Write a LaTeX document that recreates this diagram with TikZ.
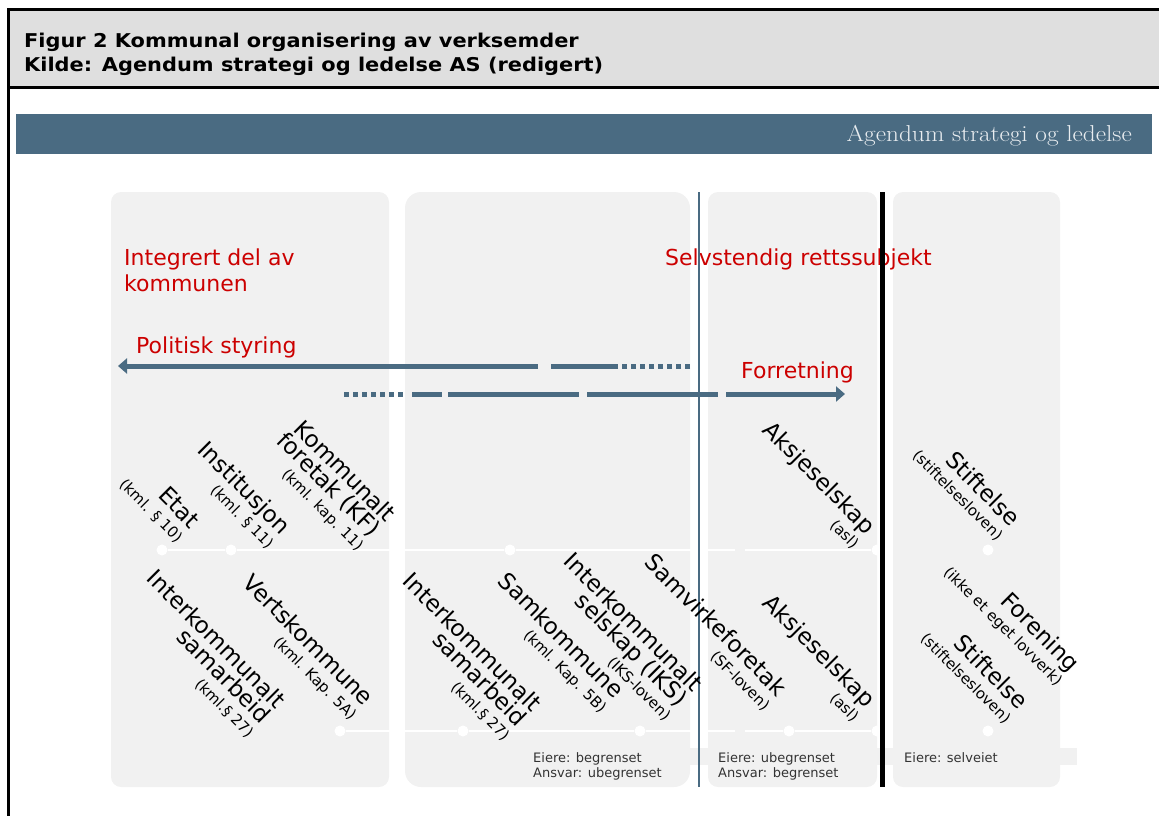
\documentclass[tikz,border=0pt]{standalone}
\usepackage{fontspec}
\newfontfamily\bannerfont[FakeStretch=1.1]{Latin Modern Roman}
\newfontfamily\titlefont[FakeStretch=1.1]{DejaVu Sans}
\setmainfont{DejaVu Sans}
\usetikzlibrary{positioning,arrows.meta}

\definecolor{agblue}{RGB}{74,107,130}
\definecolor{panelgray}{RGB}{241,241,241}
\definecolor{headgray}{RGB}{223,223,223}
\definecolor{agred}{RGB}{204,0,0}

\newcommand{\lawf}{\fontsize{15}{16}\selectfont}

\begin{document}
\begin{tikzpicture}[x=1pt,y=-1pt,
  panel/.style={fill=panelgray,rounded corners=10pt},
  org node/.style={rotate=-45,anchor=south east,align=right,inner sep=0pt,
    font=\fontsize{23}{20.5}\selectfont},
  red text/.style={anchor=base west,align=left,inner sep=0pt,text=agred,
    font=\fontsize{22}{26}\selectfont},
  owner text/.style={anchor=base west,align=left,inner sep=0pt,text=black!80,
    font=\fontsize{13}{15}\selectfont},
  way dot/.style={circle,fill=white,inner sep=0pt,minimum size=11pt},
  white line/.style={white,line width=2pt},
  flow/.style={agblue,line width=5pt},
  dotted flow/.style={flow,dash pattern=on 5pt off 4pt},
  flow tip/.style={flow,-{Triangle[length=9pt,width=15pt]}}]

  \useasboundingbox (0,0) rectangle (1159,816);
  \clip (0,0) rectangle (1159,816);

  % frame and heading
  \fill[headgray] (8,10) rectangle (1170,87);
  \draw[line width=3pt] (1170,10) -- (8,10) -- (8,830);
  \draw[line width=3pt] (8,87) -- (1170,87);
  \node[anchor=base west,align=left,inner sep=0pt,
    font=\titlefont\bfseries\fontsize{19}{24}\selectfont] (title) at (24,71)
    {Figur 2 Kommunal organisering av verksemder\\Kilde: Agendum strategi og ledelse AS (redigert)};

  % banner
  \fill[agblue] (16,114) rectangle (1152,154);
  \node[anchor=base east,inner sep=0pt,text=white!88!agblue,
    font=\bannerfont\fontsize{23}{25}\selectfont] (banner) at (1132,141)
    {Agendum strategi og ledelse};

  % panels
  \fill[panel] (111,192) rectangle (389,787);
  \fill[panel,rounded corners=16pt] (405,192) rectangle (690,787);
  \fill[panel] (708,192) rectangle (877,787);
  \fill[panel] (893,192) rectangle (1060,787);
  \fill[panelgray] (690,748) rectangle (1077,765);

  % red headings
  \node[red text] (integrert) at (124,291) {Integrert del av\\kommunen};
  \node[red text] (selvstendig) at (665,265) {Selvstendig rettssubjekt};
  \node[red text] (politisk) at (136,353) {Politisk styring};
  \node[red text] (forretning) at (741,378) {Forretning};

  % styring arrow
  \coordinate (ps1) at (690,366);
  \coordinate (ps2) at (622,366);
  \coordinate (ps3) at (618,366);
  \coordinate (ps4) at (551,366);
  \coordinate (ps5) at (538,366);
  \coordinate (ps6) at (118,366);
  \draw[dotted flow] (ps1) -- (ps2);
  \draw[flow] (ps3) -- (ps4);
  \draw[flow tip] (ps5) -- (ps6);

  % forretning arrow
  \coordinate (fo1) at (344,394);
  \coordinate (fo2) at (405,394);
  \coordinate (fo3) at (412,394);
  \coordinate (fo4) at (442,394);
  \coordinate (fo5) at (448,394);
  \coordinate (fo6) at (579,394);
  \coordinate (fo7) at (587,394);
  \coordinate (fo8) at (718,394);
  \coordinate (fo9) at (726,394);
  \coordinate (fo10) at (845,394);
  \draw[dotted flow] (fo1) -- (fo2);
  \draw[flow] (fo3) -- (fo4);
  \draw[flow] (fo5) -- (fo6);
  \draw[flow] (fo7) -- (fo8);
  \draw[flow tip] (fo9) -- (fo10);

  % white scale lines
  \node[way dot] (u1) at (162,550) {};
  \node[way dot] (u2) at (231,550) {};
  \node[way dot] (u3) at (510,550) {};
  \node[way dot] (u4) at (877,550) {};
  \node[way dot] (u5) at (988,550) {};
  \coordinate (ug1) at (735,550);
  \coordinate (ug2) at (745,550);
  \draw[white line] (u1) -- (u2) -- (u3) -- (ug1);
  \draw[white line] (ug2) -- (u4);

  \node[way dot] (l1) at (340,731) {};
  \node[way dot] (l2) at (463,731) {};
  \node[way dot] (l3) at (640,731) {};
  \node[way dot] (l4) at (789,731) {};
  \node[way dot] (l5) at (877,731) {};
  \node[way dot] (l6) at (988,731) {};
  \coordinate (lg1) at (735,731);
  \coordinate (lg2) at (745,731);
  \draw[white line] (l1) -- (l2) -- (l3) -- (lg1);
  \draw[white line] (lg2) -- (l4) -- (l5);

  % dividers
  \draw[agblue,line width=2pt] (699,192) -- (699,787);
  \draw[line width=5pt] (882,192) -- (882,787);

  % forms of organisation, upper row
  \node[org node] (etat) at (175,545) {Etat\\[-1pt]{\lawf (kml. § 10)}};
  \node[org node] (institusjon) at (266,551) {Institusjon\\[-1pt]{\lawf (kml. § 11)}};
  \node[org node] (kf) at (355,554) {Kommunalt\\foretak (KF)\\[-1pt]{\lawf (kml. kap. 11)}};
  \node[org node] (as upper) at (851,551) {Aksjeselskap\\[-1pt]{\lawf (asl)}};
  \node[org node] (stiftelse upper) at (995,543) {Stiftelse\\[-1pt]{\lawf (stiftelsesloven)}};

  % forms of organisation, lower row
  \node[org node] (iks samarbeid) at (246,740) {Interkommunalt\\samarbeid\\[-1pt]{\lawf (kml.§ 27)}};
  \node[org node] (vertskommune) at (348,723) {Vertskommune\\[-1pt]{\lawf (kml. Kap. 5A)}};
  \node[org node] (iks samarbeid2) at (502,743) {Interkommunalt\\samarbeid\\[-1pt]{\lawf (kml.§ 27)}};
  \node[org node] (samkommune) at (598,716) {Samkommune\\[-1pt]{\lawf (kml. Kap. 5B)}};
  \node[org node] (iks) at (663,723) {Interkommunalt\\selskap (IKS)\\[-1pt]{\lawf (IKS-loven)}};
  \node[org node] (samvirke) at (762,713) {Samvirkeforetak\\[-1pt]{\lawf (SF-loven)}};
  \node[org node] (as lower) at (851,724) {Aksjeselskap\\[-1pt]{\lawf (asl)}};
  \node[org node] (forening) at (1054,689) {Forening\\[-1pt]{\lawf (ikke et eget lovverk)}};
  \node[org node] (stiftelse lower) at (1003,726) {Stiftelse\\[-1pt]{\lawf (stiftelsesloven)}};

  % owners
  \node[owner text] (eiere1) at (533,777) {Eiere: begrenset\\Ansvar: ubegrenset};
  \node[owner text] (eiere2) at (718,777) {Eiere: ubegrenset\\Ansvar: begrenset};
  \node[owner text] (eiere3) at (904,762) {Eiere: selveiet};
\end{tikzpicture}
\end{document}
